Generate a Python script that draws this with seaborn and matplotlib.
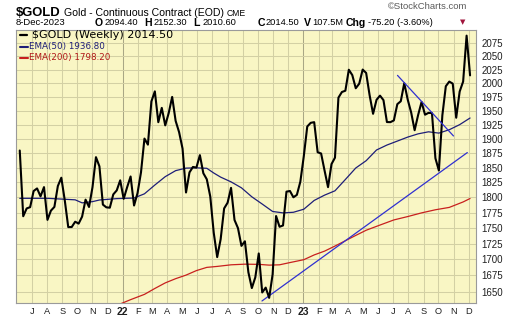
import matplotlib
matplotlib.use("Agg")
import matplotlib.pyplot as plt
from matplotlib.ticker import FixedLocator, NullLocator, FuncFormatter
import pandas as pd
import seaborn as sns

# ---------------- data ----------------
first_week = "2021-06-07"          # week of the first weekly bar
close = [1879.6, 1769.0, 1781.8, 1783.9, 1810.6, 1815.0, 1801.8, 1817.2, 1763.1, 1778.2,
         1784.3, 1819.0, 1833.0, 1795.0, 1751.4, 1751.5, 1760.1, 1757.0, 1768.4, 1796.3,
         1784.2, 1817.0, 1868.1, 1852.3, 1788.1, 1783.6, 1783.0, 1805.0, 1811.7, 1828.6,
         1797.6, 1817.0, 1835.1, 1786.6, 1807.1, 1842.1, 1900.4, 1889.8, 1966.6, 1985.0,
         1929.3, 1955.0, 1923.7, 1945.6, 1974.9, 1931.7, 1911.7, 1882.8, 1808.2, 1842.1,
         1851.3, 1850.2, 1871.6, 1840.6, 1830.3, 1801.5, 1742.3, 1703.6, 1732.0, 1781.8,
         1791.2, 1815.9, 1762.9, 1749.7, 1721.3, 1728.6, 1680.0, 1655.6, 1672.0, 1709.3,
         1648.9, 1656.3, 1640.7, 1676.6, 1769.4, 1751.9, 1754.0, 1809.6, 1810.7, 1800.2,
         1804.2, 1826.2, 1869.7, 1921.7, 1928.2, 1929.4, 1876.6, 1874.4, 1845.0, 1817.1,
         1856.2, 1867.2, 1973.5, 1983.8, 1986.2, 2025.0, 2015.0, 1990.7, 1999.1, 2025.3,
         2019.0, 1978.0, 1944.3, 1969.6, 1977.2, 1969.0, 1929.6, 1929.4, 1932.5, 1961.7,
         1967.0, 2000.0, 1970.0, 1946.6, 1915.1, 1942.0, 1965.7, 1942.7, 1946.0, 1945.6,
         1866.1, 1845.2, 1941.5, 1994.4, 2003.0, 1999.2, 1937.3, 1984.7, 2003.0, 2089.7,
         2014.5]

ema50_week = [0, 8, 16, 18, 21, 23, 28, 33, 36, 39, 42, 45, 48, 51, 54, 56, 58, 61, 64, 67,
              70, 73, 76, 79, 82, 85, 88, 91, 94, 97, 100, 103, 106, 109, 112, 115, 118, 121,
              124, 127, 130]
ema50 = [1798.5, 1798.5, 1796.0, 1791.0, 1793.0, 1795.7, 1798.0, 1799.0, 1806.0, 1820.7,
         1834.8, 1845.0, 1849.3, 1849.8, 1849.0, 1841.0, 1834.0, 1826.0, 1816.0, 1801.0,
         1789.0, 1776.8, 1774.5, 1775.5, 1780.5, 1795.0, 1803.8, 1811.0, 1830.0, 1849.5,
         1862.0, 1880.5, 1889.1, 1896.0, 1903.0, 1908.7, 1912.3, 1910.0, 1916.0, 1925.0,
         1936.8]

ema200_week = [29, 32, 36, 39, 42, 45, 48, 51, 54, 57, 61, 65, 69, 72, 75, 78, 82, 85, 88,
               91, 94, 97, 100, 104, 108, 112, 116, 120, 124, 128, 130]
ema200 = [1631.5, 1638.0, 1646.0, 1655.0, 1663.5, 1670.0, 1675.5, 1682.5, 1687.5, 1689.0,
          1691.5, 1692.5, 1692.2, 1691.0, 1691.5, 1695.0, 1699.5, 1707.0, 1713.0, 1721.0,
          1729.5, 1738.0, 1746.3, 1754.7, 1763.0, 1768.5, 1774.5, 1779.6, 1783.5, 1792.5,
          1798.2]

trend_up_dates = ["2022-10-09 12:00", "2023-11-28 10:00"]
trend_up_vals = [1636.0, 1876.0]
trend_dn_dates = ["2023-07-10 08:00", "2023-10-31 12:00"]
trend_dn_vals = [2014.5, 1905.0]

y_ticks = [1650, 1675, 1700, 1725, 1750, 1775, 1800, 1825, 1850, 1875, 1900, 1925, 1950,
           1975, 2000, 2025, 2050, 2075]
month_starts = pd.date_range("2021-07-01", "2023-12-01", freq="MS")

quote_labels = ["O", "H", "L", "C", "V", "Chg"]
quote_values = ["2094.40", "2152.30", "2010.60", "2014.50", "107.5M", "-75.20 (-3.60%)"]

# ---------------- figure ----------------
W, H = 520, 318
sns.set_style("white")
plt.rcParams["font.family"] = ["Liberation Sans", "DejaVu Sans"]

fig = plt.figure(figsize=(W / 100, H / 100), dpi=100)
fig.patch.set_facecolor("white")
L, R, T, B = 16, 476, 30, 302.7
ax = fig.add_axes([L / W, 1 - B / H, (R - L) / W, (B - T) / H])
ax.set_facecolor("#F9F6C4")

dates = pd.date_range(first_week, periods=len(close), freq="7D")
df = pd.DataFrame({"date": dates, "close": close})
d50 = pd.DataFrame({"date": dates[ema50_week], "v": ema50})
d200 = pd.DataFrame({"date": dates[ema200_week], "v": ema200})
tu = pd.DataFrame({"date": pd.to_datetime(trend_up_dates), "v": trend_up_vals})
td = pd.DataFrame({"date": pd.to_datetime(trend_dn_dates), "v": trend_dn_vals})

ax.set_yscale("log")
sns.lineplot(data=d200, x="date", y="v", ax=ax, color="#C8201E", lw=0.9, zorder=3)
sns.lineplot(data=tu, x="date", y="v", ax=ax, color="#3030D0", lw=0.9, zorder=3)
sns.lineplot(data=d50, x="date", y="v", ax=ax, color="#1E1E78", lw=0.9, zorder=3)
sns.lineplot(data=df, x="date", y="close", ax=ax, color="black", lw=1.5, zorder=4)
sns.lineplot(data=td, x="date", y="v", ax=ax, color="#3030D0", lw=0.9, zorder=5)

ax.set_xlim(pd.Timestamp("2021-05-30 10:00"), pd.Timestamp("2023-12-16"))
ax.set_ylim(1633.4, 2100.6)
ax.set_xlabel("")
ax.set_ylabel("")

# y axis on right
ax.yaxis.tick_right()
ax.yaxis.set_major_locator(FixedLocator(y_ticks))
ax.yaxis.set_minor_locator(NullLocator())
ax.yaxis.set_major_formatter(FuncFormatter(lambda v, p: f"{v:.0f}"))
ax.tick_params(axis="y", which="both", length=0, pad=4.0, labelsize=7, labelcolor="#202020")

# x axis months
ax.set_xticks(month_starts)
ax.set_xticklabels([str(d.year % 100) if d.month == 1 else d.strftime("%b")[0]
                    for d in month_starts])
ax.xaxis.set_minor_locator(NullLocator())
ax.tick_params(axis="x", length=0, pad=3.0, labelsize=6.7, labelcolor="#202020")
for lab, d in zip(ax.get_xticklabels(), month_starts):
    if d.month == 1:
        lab.set_fontweight("bold")
        lab.set_fontsize(7.5)

ax.grid(True, which="major", color="#D3D0A4", lw=0.75)
for gl, d in zip(ax.get_xgridlines(), month_starts):
    if d.month == 1:
        gl.set_color("#A9A785")
for s in ax.spines.values():
    s.set_color("#9A9A9A")
    s.set_linewidth(0.8)


def ftxt(x, y, s, **kw):
    return fig.text(x / W, 1 - y / H, s, va="center", ha="left", **kw)


# header
ftxt(16, 12.5, "$GOLD", fontsize=9.4, fontweight="bold", color="black")
ftxt(63.5, 12.8, "Gold - Continuous Contract (EOD)", fontsize=7.6, color="black")
ftxt(227, 13.5, "CME", fontsize=6.2, color="black")
ftxt(388, 6.5, "\u00a9StockCharts.com", fontsize=6.8, color="#5A5A5A")
ftxt(16, 22.5, "8-Dec-2023", fontsize=6.8, color="black")

# quote row
label_x = [95, 144, 193.5, 257.5, 304, 346]
value_x = [104.5, 154, 202.5, 266, 312, 368.5]
for x0, lab in zip(label_x, quote_labels):
    ftxt(x0, 22.5, lab, fontsize=7.6, fontweight="bold", color="black")
for x0, val in zip(value_x, quote_values):
    ftxt(x0, 22.5, val, fontsize=6.7, color="black")
ftxt(460, 22.5, "\u25bc", fontsize=5, color="#A0143C", family="DejaVu Sans")

# legend inside plot
fig.add_artist(plt.Line2D([20 / W, 27 / W], [1 - 35 / H, 1 - 35 / H], color="black", lw=1.6))
ftxt(31.5, 35, "$GOLD (Weekly) 2014.50", fontsize=8.0, color="black", family="DejaVu Sans")
fig.add_artist(plt.Line2D([19.5 / W, 28 / W], [1 - 46.7 / H, 1 - 46.7 / H], color="#1E1E78", lw=1.5))
ftxt(29, 46.7, "EMA(50) 1936.80", fontsize=6.3, color="#1E1E78", family="DejaVu Sans")
fig.add_artist(plt.Line2D([19.5 / W, 28 / W], [1 - 57.5 / H, 1 - 57.5 / H], color="#C8201E", lw=1.5))
ftxt(29, 57.5, "EMA(200) 1798.20", fontsize=6.3, color="#B01818", family="DejaVu Sans")

fig.savefig("out.png", dpi=100)
